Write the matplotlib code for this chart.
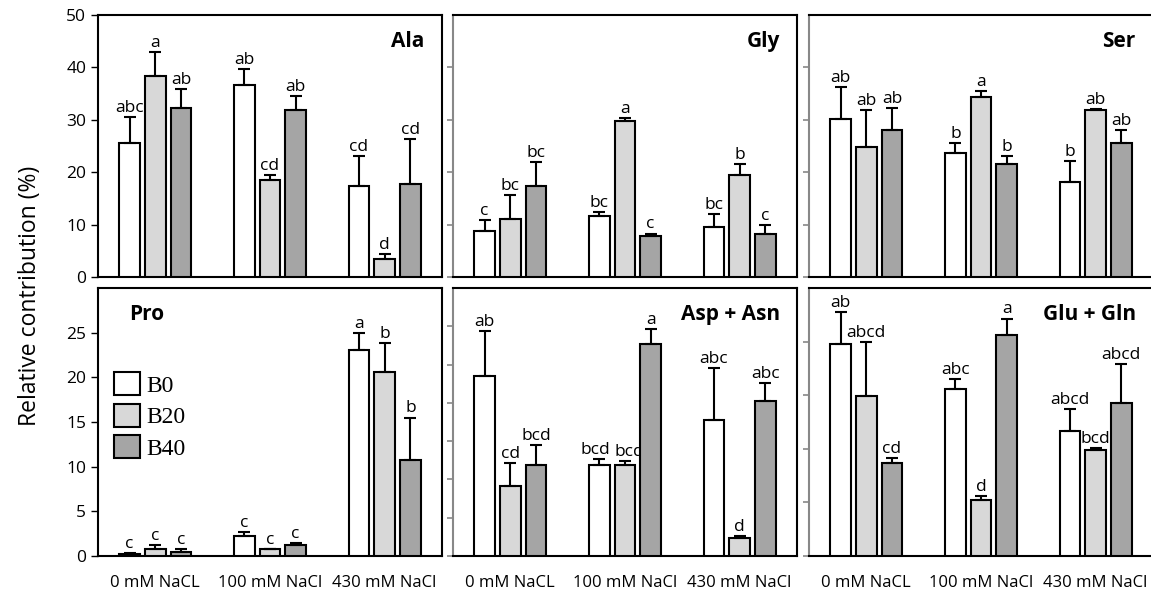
import matplotlib
matplotlib.use('Agg')
import matplotlib.pyplot as plt
import numpy as np

plt.rcParams['font.family'] = ['Open Sans', 'DejaVu Sans']

groups = ['0 mM NaCL', '100 mM NaCl', '430 mM NaCl']
series = ['B0', 'B20', 'B40']
colors = ['#ffffff', '#d8d8d8', '#a5a5a5']

# mean values per panel, rows = B0, B20, B40 ; columns = salt level
ala = [[25.6, 36.7, 17.3], [38.3, 18.6, 3.4], [32.2, 31.8, 17.8]]
ala_err = [[5.0, 2.9, 5.8], [4.6, 0.8, 0.9], [3.6, 2.8, 8.6]]
ala_lab = [['abc', 'ab', 'cd'], ['a', 'cd', 'd'], ['ab', 'ab', 'cd']]

gly = [[8.7, 11.6, 9.6], [11.1, 29.7, 19.5], [17.4, 7.9, 8.3]]
gly_err = [[2.1, 0.8, 2.4], [4.6, 0.7, 2.0], [4.5, 0.4, 1.6]]
gly_lab = [['c', 'bc', 'bc'], ['bc', 'a', 'b'], ['bc', 'c', 'c']]

ser = [[30.1, 23.6, 18.2], [24.8, 34.3, 31.8], [28.1, 21.5, 25.6]]
ser_err = [[6.2, 1.9, 4.0], [7.0, 1.2, 0.3], [4.1, 1.6, 2.4]]
ser_lab = [['ab', 'b', 'b'], ['ab', 'a', 'ab'], ['ab', 'b', 'ab']]

pro = [[0.2, 2.2, 23.1], [0.75, 0.75, 20.6], [0.5, 1.24, 10.7]]
pro_err = [[0.1, 0.5, 1.9], [0.45, 0.05, 3.2], [0.25, 0.22, 4.8]]
pro_lab = [['c', 'c', 'a'], ['c', 'c', 'b'], ['c', 'c', 'b']]

asp = [[23.5, 11.9, 17.8], [9.1, 11.9, 2.35], [11.9, 27.7, 20.3]]
asp_err = [[5.9, 0.8, 6.8], [3.1, 0.5, 0.25], [2.6, 2.0, 2.3]]
asp_lab = [['ab', 'bcd', 'abc'], ['cd', 'bcd', 'd'], ['bcd', 'a', 'abc']]

glu = [[19.8, 15.6, 11.7], [14.95, 5.26, 9.9], [8.7, 20.6, 14.3]]
glu_err = [[3.0, 0.95, 2.0], [5.05, 0.37, 0.2], [0.4, 1.55, 3.6]]
glu_lab = [['ab', 'abc', 'abcd'], ['abcd', 'd', 'bcd'], ['cd', 'a', 'abcd']]

# name, values, errors, letters, y max, tick step, last labelled tick, title side
panels = [
    ('Ala', ala, ala_err, ala_lab, 50, 10, 50, 'right'),
    ('Gly', gly, gly_err, gly_lab, 50, 10, 40, 'right'),
    ('Ser', ser, ser_err, ser_lab, 50, 10, 40, 'right'),
    ('Pro', pro, pro_err, pro_lab, 30, 5, 25, 'left'),
    ('Asp + Asn', asp, asp_err, asp_lab, 35, 5, 30, 'right'),
    ('Glu + Gln', glu, glu_err, glu_lab, 25, 5, 20, 'right'),
]

# small sideways shifts so that neighbouring letters don't collide
nudge = {('Asp + Asn', 0, 1): -0.035, ('Asp + Asn', 1, 1): 0.035}

W, H = 1151.0, 592.0
lefts = [98, 453, 809]
width = 344
rows = [(15, 277), (288, 556)]

fig = plt.figure(figsize=(11.51, 5.92), dpi=100)

x = np.arange(len(groups))
offs = [-0.224, 0, 0.224]
bw = 0.18

for k, (name, vals, errs, labs, ymax, step, ylast, tpos) in enumerate(panels):
    r, c = divmod(k, 3)
    top, bot = rows[r]
    ax = fig.add_axes([lefts[c] / W, 1 - bot / H, width / W, (bot - top) / H])
    for i in range(3):
        ax.bar(x + offs[i], vals[i], bw, color=colors[i], edgecolor='black',
               linewidth=1.5, label=series[i], zorder=3)
        ax.errorbar(x + offs[i], vals[i], yerr=[np.zeros(3), errs[i]], fmt='none',
                    ecolor='black', elinewidth=1.5, capsize=4, capthick=1.5, zorder=4)
        for j in range(3):
            dx = nudge.get((name, i, j), 0)
            ax.text(x[j] + offs[i] + dx, vals[i][j] + errs[i][j] + ymax * 0.004,
                    labs[i][j], ha='center', va='bottom', fontsize=12.5)
    ax.set_xlim(-0.5, 2.5)
    ax.set_ylim(0, ymax)
    ax.set_yticks(np.arange(0, ylast + 0.1, step))
    if c == 0:
        ax.tick_params(axis='y', labelsize=12.5, length=5, width=1, direction='out')
        ax.spines['left'].set_color('black')
    else:
        ax.set_yticklabels([])
        ax.tick_params(axis='y', length=4, width=1.2, color='#888888')
        ax.spines['left'].set_color('#888888')
    for s in ax.spines.values():
        s.set_linewidth(1.5)
    ax.set_xticks(x)
    if r == 1:
        ax.set_xticklabels(groups, fontsize=12)
        ax.tick_params(axis='x', length=0, pad=14)
    else:
        ax.set_xticklabels([])
        ax.tick_params(axis='x', length=0)
    if tpos == 'right':
        ax.text(0.95, 0.94, name, transform=ax.transAxes, ha='right', va='top',
                fontsize=15, fontweight='bold')
    else:
        ax.text(0.09, 0.94, name, transform=ax.transAxes, ha='left', va='top',
                fontsize=15, fontweight='bold')
    if k == 3:
        ax.legend(loc='upper left', bbox_to_anchor=(0.018, 0.72), frameon=False,
                  prop={'family': 'Liberation Serif', 'size': 17},
                  handlelength=1.1, handleheight=1.1, handletextpad=0.3,
                  labelspacing=0.3, borderaxespad=0)

fig.text(30 / W, 0.5, 'Relative contribution (%)', rotation=90, ha='center',
         va='center', fontsize=16.5)

fig.savefig('out.png', dpi=100)
